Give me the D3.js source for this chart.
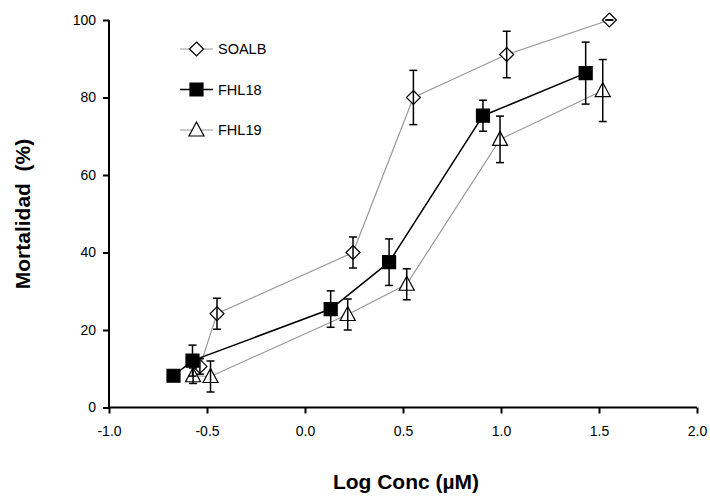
<!DOCTYPE html>
<html>
<head>
<meta charset="utf-8">
<script src="https://cdn.jsdelivr.net/npm/d3@7"></script>
<style>
  html, body { margin: 0; padding: 0; background: #fff; }
  svg { display: block; font-family: "Liberation Sans", Arial, sans-serif; }
</style>
</head>
<body>
<svg id="chart" width="710" height="497"></svg>
<script>
// Mortality (%) versus log concentration for three compounds
const seriesNames = ["SOALB", "FHL18", "FHL19"];

const soalbX   = [-0.536, -0.449, 0.245, 0.553, 1.029, 1.553];
const soalbY   = [10.6, 24.2, 40.0, 80.0, 91.1, 100];
const soalbErr = [2, 4, 4, 7, 6, 0];

const fhl18X   = [-0.671, -0.574, 0.131, 0.429, 0.908, 1.432];
const fhl18Y   = [8.2, 12.1, 25.4, 37.5, 75.3, 86.3];
const fhl18Err = [0, 4, 4.7, 6, 4, 8];

const fhl19X   = [-0.571, -0.482, 0.218, 0.519, 0.995, 1.519];
const fhl19Y   = [8.2, 8.0, 24.0, 31.8, 69.2, 81.8];
const fhl19Err = [2, 4, 4, 4, 6, 8];

const xTicks = [-1.0, -0.5, 0.0, 0.5, 1.0, 1.5, 2.0];
const yTicks = [0, 20, 40, 60, 80, 100];

const svg = d3.select("#chart");

const x = d3.scaleLinear().domain([-1, 2]).range([109, 697]);
const y = d3.scaleLinear().domain([0, 100]).range([407.5, 20]);

function zip(xs, ys, es) {
  return xs.map((v, i) => ({ x: v, y: ys[i], e: es[i] }));
}

const series = [
  { name: seriesNames[0], data: zip(soalbX, soalbY, soalbErr), line: "#999999", lw: 1.2, marker: "diamond" },
  { name: seriesNames[1], data: zip(fhl18X, fhl18Y, fhl18Err), line: "#000000", lw: 1.5, marker: "square" },
  { name: seriesNames[2], data: zip(fhl19X, fhl19Y, fhl19Err), line: "#999999", lw: 1.2, marker: "triangle" }
];

// plain hyphen for negative tick values
const fmtX = v => d3.format(".1f")(v).replace("\u2212", "-");

// axes
const xAxis = d3.axisBottom(x).tickValues(xTicks).tickFormat(fmtX).tickSize(6).tickPadding(13);
const yAxis = d3.axisLeft(y).tickValues(yTicks).tickFormat(d3.format("d")).tickSize(6).tickPadding(7);

const gx = svg.append("g").attr("transform", `translate(0,${y(0)})`).call(xAxis);
const gy = svg.append("g").attr("transform", `translate(${x(-1)},0)`).call(yAxis);
[gx, gy].forEach(g => {
  g.select(".domain").attr("stroke", "#000").attr("stroke-width", 2);
  g.selectAll(".tick line").attr("stroke", "#000").attr("stroke-width", 2);
  g.selectAll(".tick text").attr("fill", "#000").style("font-size", "14px")
    .style("font-family", "'Liberation Sans', Arial, sans-serif");
});
gx.select(".domain").attr("d", `M${x(-1)},0H${x(2)}`);
gy.select(".domain").attr("d", `M0,${y(0)}V${y(100)}`);
gx.selectAll(".tick text").attr("dy", "0.71em");

// axis titles
svg.append("text")
  .attr("x", 406).attr("y", 489)
  .attr("text-anchor", "middle")
  .style("font-size", "21px").style("font-weight", "bold")
  .text("Log Conc (\u00B5M)");

svg.append("text")
  .attr("transform", "translate(30,214) rotate(-90)")
  .attr("text-anchor", "middle")
  .style("font-size", "21px").style("font-weight", "bold")
  .attr("xml:space", "preserve")
  .style("white-space", "pre")
  .text("Mortalidad  (%)");

// marker shapes
function markerPath(type) {
  if (type === "diamond") return "M0,-7L7,0L0,7L-7,0Z";
  if (type === "square") return "M-6.5,-6.5H6.5V6.5H-6.5Z";
  return "M0,-8L7.5,6H-7.5Z";
}
function markerFill(type) { return type === "square" ? "#000" : "#fff"; }

const line = d3.line().x(d => x(d.x)).y(d => y(d.y));

const plot = svg.append("g");

// connecting lines
series.forEach(s => {
  plot.append("path")
    .datum(s.data)
    .attr("d", line)
    .attr("fill", "none")
    .attr("stroke", s.line)
    .attr("stroke-width", s.lw);
});

// markers
series.forEach(s => {
  plot.append("g").selectAll("path")
    .data(s.data)
    .join("path")
    .attr("transform", d => `translate(${x(d.x)},${y(d.y)})`)
    .attr("d", markerPath(s.marker))
    .attr("fill", markerFill(s.marker))
    .attr("stroke", "#000")
    .attr("stroke-width", 1.2);
});

// error bars
series.forEach(s => {
  const g = plot.append("g").attr("stroke", "#000").attr("stroke-width", 1.5);
  s.data.forEach(d => {
    const cx = x(d.x), t = y(d.y + d.e), b = y(d.y - d.e);
    g.append("line").attr("x1", cx).attr("x2", cx).attr("y1", t).attr("y2", b);
    g.append("line").attr("x1", cx - 4).attr("x2", cx + 4).attr("y1", t).attr("y2", t);
    g.append("line").attr("x1", cx - 4).attr("x2", cx + 4).attr("y1", b).attr("y2", b);
  });
});

// legend
const legend = svg.append("g");
series.forEach((s, i) => {
  const ly = 49 + i * 40.5;
  legend.append("line")
    .attr("x1", 180).attr("x2", 213).attr("y1", ly).attr("y2", ly)
    .attr("stroke", s.line).attr("stroke-width", s.lw);
  legend.append("path")
    .attr("transform", `translate(196.5,${ly})`)
    .attr("d", markerPath(s.marker))
    .attr("fill", markerFill(s.marker))
    .attr("stroke", "#000").attr("stroke-width", 1.2);
  legend.append("text")
    .attr("x", 218).attr("y", ly + 5)
    .style("font-size", "14.5px")
    .text(s.name);
});
</script>
</body>
</html>
